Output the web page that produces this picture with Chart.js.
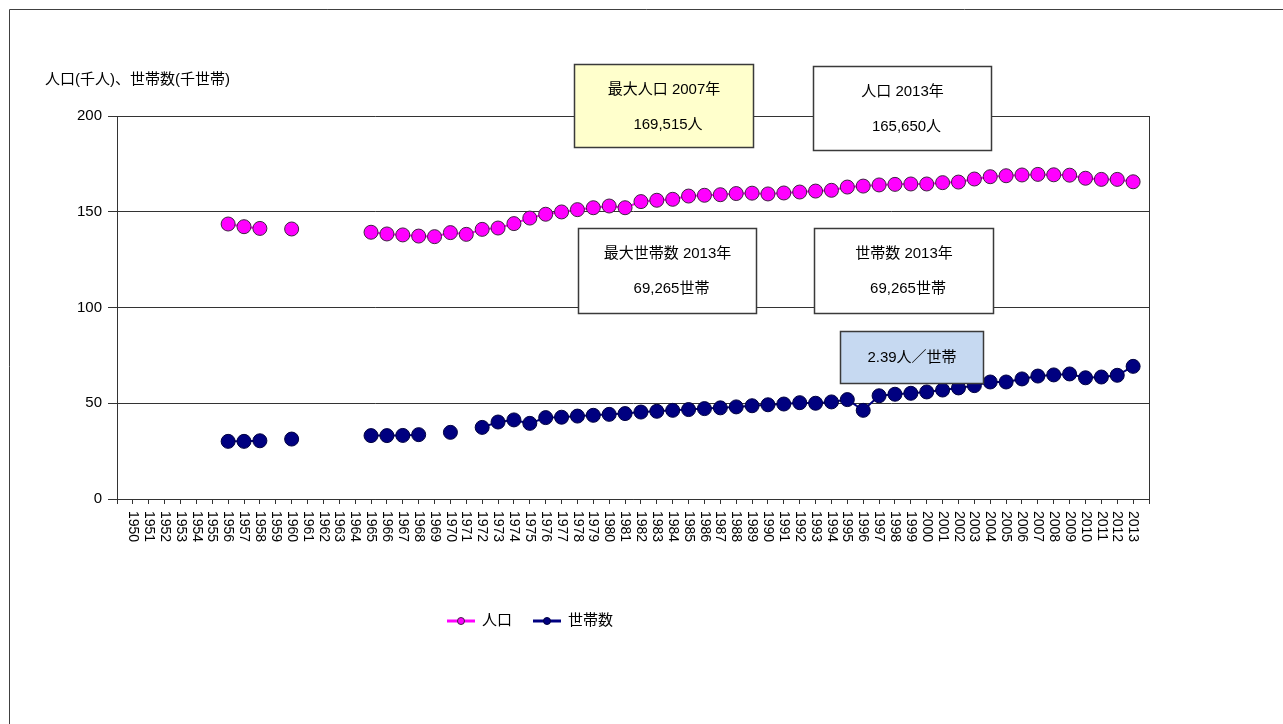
<!DOCTYPE html>
<html lang="ja">
<head>
<meta charset="utf-8">
<title>人口・世帯数の推移</title>
<script src="https://cdn.jsdelivr.net/npm/chart.js@4.4.1/dist/chart.umd.min.js"></script>
<style>
  html, body { margin: 0; padding: 0; background: #fff; overflow: hidden; }
</style>
</head>
<body>
<canvas id="popChart" width="1283" height="724"></canvas>
<script>
// 年次
const years = [
  1950, 1951, 1952, 1953, 1954, 1955, 1956, 1957, 1958, 1959,
  1960, 1961, 1962, 1963, 1964, 1965, 1966, 1967, 1968, 1969,
  1970, 1971, 1972, 1973, 1974, 1975, 1976, 1977, 1978, 1979,
  1980, 1981, 1982, 1983, 1984, 1985, 1986, 1987, 1988, 1989,
  1990, 1991, 1992, 1993, 1994, 1995, 1996, 1997, 1998, 1999,
  2000, 2001, 2002, 2003, 2004, 2005, 2006, 2007, 2008, 2009,
  2010, 2011, 2012, 2013
];

// 人口(千人)  null = データなし
const population = [
  null, null, null, null, null, null, 143.6, 142.2, 141.3, null,
  141.0, null, null, null, null, 139.3, 138.4, 137.9, 137.3, 137.0,
  139.1, 138.2, 140.8, 141.5, 143.8, 146.7, 148.7, 149.9, 151.1, 152.1,
  153.0, 152.1, 155.3, 156.0, 156.5, 158.2, 158.6, 158.9, 159.5, 159.7,
  159.3, 159.8, 160.3, 160.8, 161.2, 162.9, 163.4, 164.0, 164.3, 164.5,
  164.5, 165.2, 165.5, 167.1, 168.3, 168.8, 169.2, 169.515, 169.3, 169.1,
  167.5, 166.9, 166.9, 165.65
];

// 世帯数(千世帯)
const households = [
  null, null, null, null, null, null, 30.1, 30.1, 30.4, null,
  31.3, null, null, null, null, 33.1, 33.1, 33.2, 33.6, null,
  34.8, null, 37.4, 40.2, 41.3, 39.5, 42.5, 42.7, 43.3, 43.7,
  44.2, 44.6, 45.4, 45.8, 46.3, 46.7, 47.2, 47.6, 48.1, 48.7,
  49.2, 49.6, 50.3, 50.0, 50.7, 51.9, 46.3, 53.9, 54.7, 55.2,
  55.9, 56.9, 58.0, 59.2, 61.1, 61.1, 62.7, 64.2, 64.8, 65.3,
  63.3, 63.7, 64.6, 69.265
];

const yTicks = [0, 50, 100, 150, 200];

const FONT = '"Liberation Sans", "Noto Sans CJK JP", sans-serif';
Chart.defaults.font.family = FONT;
Chart.defaults.color = '#000';

// 注記用の値
const fmt = v => Math.round(v * 1000).toLocaleString('en-US');
function maxOf(arr) {
  let best = -1;
  arr.forEach((v, i) => { if (v !== null && (best < 0 || v >= arr[best])) best = i; });
  return best;
}
const last = years.length - 1;
const popMaxIdx = maxOf(population);
const hhMaxIdx = maxOf(households);
const perHousehold = (population[last] / households[last]).toFixed(2);

// 注記ボックス(座標はデータ値)
const notes = [
  { x0: 1977.78, x1: 1989.04, y0: 227.0, y1: 183.7, fill: '#FFFFCC',
    lines: ['最大人口 ' + years[popMaxIdx] + '年', fmt(population[popMaxIdx]) + '人'] },
  { x0: 1992.82, x1: 2004.05, y0: 226.3, y1: 182.2, fill: '#FFFFFF',
    lines: ['人口 ' + years[last] + '年', fmt(population[last]) + '人'] },
  { x0: 1978.06, x1: 1989.25, y0: 141.4, y1: 97.3, fill: '#FFFFFF',
    lines: ['最大世帯数 ' + years[hhMaxIdx] + '年', fmt(households[hhMaxIdx]) + '世帯'] },
  { x0: 1992.9, x1: 2004.16, y0: 141.4, y1: 97.3, fill: '#FFFFFF',
    lines: ['世帯数 ' + years[last] + '年', fmt(households[last]) + '世帯'] },
  { x0: 1994.54, x1: 2003.56, y0: 87.9, y1: 60.7, fill: '#C6D9F1',
    lines: [perHousehold + '人／世帯'] }
];

const crisp = v => Math.round(v) + 0.5;

const decorations = {
  id: 'decorations',
  beforeDraw(chart) {
    const ctx = chart.ctx;
    ctx.save();
    ctx.fillStyle = '#fff';
    ctx.fillRect(0, 0, chart.width, chart.height);
    // 外枠
    ctx.strokeStyle = '#404040';
    ctx.lineWidth = 1;
    ctx.beginPath();
    ctx.moveTo(9.5, chart.height);
    ctx.lineTo(9.5, 9.5);
    ctx.lineTo(chart.width, 9.5);
    ctx.stroke();
    ctx.restore();
  },
  afterDatasetsDraw(chart) {
    const ctx = chart.ctx;
    const xs = chart.scales.x, ys = chart.scales.y;
    ctx.save();
    notes.forEach(n => {
      const l = crisp(xs.getPixelForValue(n.x0));
      const r = crisp(xs.getPixelForValue(n.x1));
      const t = crisp(ys.getPixelForValue(n.y0));
      const b = crisp(ys.getPixelForValue(n.y1));
      ctx.fillStyle = n.fill;
      ctx.fillRect(l, t, r - l, b - t);
      ctx.strokeStyle = '#3a3a3a';
      ctx.lineWidth = 1.5;
      ctx.strokeRect(l, t, r - l, b - t);
      ctx.fillStyle = '#000';
      ctx.font = '15px ' + FONT;
      ctx.textAlign = 'center';
      ctx.textBaseline = 'middle';
      const cx = (l + r) / 2;
      if (n.lines.length === 1) {
        ctx.fillText(n.lines[0], cx, (t + b) / 2);
      } else {
        ctx.fillText(n.lines[0], cx, t + 25);
        ctx.fillText(n.lines[1], cx + 4, t + 60);
      }
    });
    ctx.restore();
  },
  afterDraw(chart) {
    const ctx = chart.ctx;
    const area = chart.chartArea;
    const xs = chart.scales.x;
    ctx.save();

    // プロット右端の枠線
    ctx.strokeStyle = '#333';
    ctx.lineWidth = 1;
    ctx.beginPath();
    ctx.moveTo(crisp(area.right), area.top);
    ctx.lineTo(crisp(area.right), area.bottom);
    ctx.stroke();

    // 年ラベル(縦書き)
    ctx.fillStyle = '#000';
    ctx.font = '14px ' + FONT;
    ctx.textAlign = 'left';
    ctx.textBaseline = 'middle';
    years.forEach(yr => {
      ctx.save();
      ctx.translate(xs.getPixelForValue(yr), area.bottom + 12);
      ctx.rotate(Math.PI / 2);
      ctx.fillText(String(yr), 0, 0);
      ctx.restore();
    });

    // 軸タイトル
    ctx.font = '15px ' + FONT;
    ctx.fillText('人口(千人)、世帯数(千世帯)', area.left - 72, area.top - 36);

    // 凡例
    const ly = area.bottom + 122;
    const items = chart.data.datasets.map(ds => ({
      label: ds.label, line: ds.borderColor, fill: ds.pointBackgroundColor, edge: ds.pointBorderColor
    }));
    const mark = 28, gap = 7, between = 21;
    let total = 0;
    items.forEach((it, i) => {
      it.w = ctx.measureText(it.label).width;
      total += mark + gap + it.w + (i ? between : 0);
    });
    let x = 530 - total / 2;
    items.forEach(it => {
      ctx.strokeStyle = it.line;
      ctx.lineWidth = 3;
      ctx.beginPath();
      ctx.moveTo(x, ly);
      ctx.lineTo(x + mark, ly);
      ctx.stroke();
      ctx.beginPath();
      ctx.arc(x + mark / 2, ly, 3.5, 0, Math.PI * 2);
      ctx.fillStyle = it.fill;
      ctx.fill();
      ctx.strokeStyle = it.edge;
      ctx.lineWidth = 1;
      ctx.stroke();
      ctx.fillStyle = '#000';
      ctx.fillText(it.label, x + mark + gap, ly);
      x += mark + gap + it.w + between;
    });
    ctx.restore();
  }
};

const toPoints = arr => years.map((yr, i) => ({ x: yr, y: arr[i] }));

new Chart(document.getElementById('popChart'), {
  type: 'line',
  data: {
    datasets: [{
      label: '人口',
      data: toPoints(population),
      borderColor: '#FF00FF',
      backgroundColor: '#FF00FF',
      borderWidth: 2,
      pointRadius: 7,
      pointBackgroundColor: '#FF00FF',
      pointBorderColor: '#3d2640',
      pointBorderWidth: 1,
      spanGaps: false,
      tension: 0
    }, {
      label: '世帯数',
      data: toPoints(households),
      borderColor: '#000080',
      backgroundColor: '#000080',
      borderWidth: 2,
      pointRadius: 7,
      pointBackgroundColor: '#000080',
      pointBorderColor: '#000040',
      pointBorderWidth: 1,
      spanGaps: false,
      tension: 0
    }]
  },
  options: {
    responsive: false,
    animation: false,
    events: [],
    layout: { padding: { left: 67, top: 116, right: 134, bottom: 165 } },
    plugins: {
      legend: { display: false },
      tooltip: { enabled: false }
    },
    scales: {
      x: {
        type: 'linear',
        min: 1949,
        max: 2014,
        ticks: { stepSize: 1, display: false, autoSkip: false },
        grid: { drawOnChartArea: false, tickLength: 5, color: '#333' },
        border: { color: '#333' },
        afterFit(scale) { scale.height = 60; }
      },
      y: {
        min: 0,
        max: 200,
        afterBuildTicks(scale) { scale.ticks = yTicks.map(v => ({ value: v })); },
        ticks: { font: { size: 15 }, color: '#000', padding: 6 },
        grid: { color: '#333', tickLength: 9 },
        border: { color: '#333' },
        afterFit(scale) { scale.width = 50; }
      }
    }
  },
  plugins: [decorations]
});
</script>
</body>
</html>
